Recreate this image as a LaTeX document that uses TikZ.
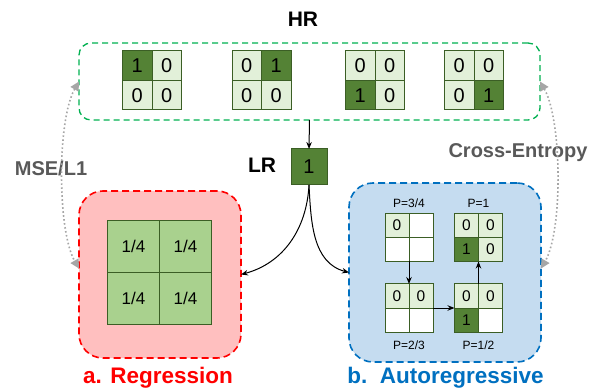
\documentclass[tikz,border=0pt]{standalone}
\usepackage{fontspec}
\setmainfont{Liberation Sans}
\usetikzlibrary{arrows.meta}

\definecolor{cellon}{HTML}{548235}
\definecolor{celloff}{HTML}{E2F0D9}
\definecolor{cellline}{HTML}{3B5E25}
\definecolor{quarter}{HTML}{A9D18E}
\definecolor{hrline}{HTML}{00B050}
\definecolor{regfill}{HTML}{FFBFBF}
\definecolor{autofill}{HTML}{C5DCF0}
\definecolor{autoline}{HTML}{0070C0}
\definecolor{lossgray}{HTML}{A6A6A6}
\definecolor{losstext}{HTML}{595959}

\newcommand{\hrfont}{\fontsize{20}{24}\selectfont}
\newcommand{\regfont}{\fontsize{17}{20}\selectfont}
\newcommand{\arfont}{\fontsize{15.5}{18}\selectfont}
\newcommand{\plabfont}{\fontsize{12}{14}\selectfont}

% 2x2 grid: name, centre, cell size, font, four cells [style]{text}
\newcommand{\cellgrid}[8]{%
  \node (#1) at (#2) [minimum size=2*#3] {};
  \node (#1a) at (#1.center) [anchor=south east, minimum size=#3, font=#4] #5;
  \node (#1b) at (#1.center) [anchor=south west, minimum size=#3, font=#4] #6;
  \node (#1c) at (#1.center) [anchor=north east, minimum size=#3, font=#4] #7;
  \node (#1d) at (#1.center) [anchor=north west, minimum size=#3, font=#4] #8;
}

\begin{document}
\begin{tikzpicture}[x=1pt,y=1pt]
	\tikzstyle{every node}+=[inner sep=0pt, outer sep=0pt]
	\tikzstyle{onecell}=[draw=cellline, line width=1pt, fill=cellon]
	\tikzstyle{zerocell}=[draw=cellline, line width=1pt, fill=celloff]
	\tikzstyle{blankcell}=[draw=cellline, line width=1pt, fill=white]
	\tikzstyle{quartcell}=[draw=cellline, line width=1pt, fill=quarter]
	\tikzstyle{arrow}=[line width=1pt, -{Stealth[length=7pt,width=5.5pt]}]
	\tikzstyle{loss}=[lossgray, line width=1.6pt, dash pattern=on 1.6pt off 2.4pt, looseness=0.6, {Triangle[length=9pt,width=9pt]}-{Triangle[length=9pt,width=9pt]}]
	\tikzstyle{title}=[font=\fontsize{21}{24}\selectfont\bfseries]
	\tikzstyle{losslabel}=[font=\fontsize{20}{24}\selectfont\bfseries, text=losstext]
	\useasboundingbox (0,0) rectangle (598,389);

	% boxes
	\node (hrbox) at (309.5,307.5) [draw=hrline, line width=1.3pt, dash pattern=on 6pt off 4pt, rounded corners=12pt, minimum width=461pt, minimum height=77pt] {};
	\node (reg) at (160,114.5) [draw=red, fill=regfill, line width=1.6pt, dash pattern=on 7pt off 4pt, rounded corners=24pt, minimum width=162pt, minimum height=167pt] {};
	\node (autobox) at (445,116.5) [draw=autoline, fill=autofill, line width=1.6pt, dash pattern=on 7pt off 4pt, rounded corners=24pt, minimum width=192pt, minimum height=179pt] {};

	% HR
	\node (hrlabel) at (303,369.5) [title] {HR};
	\cellgrid{hra}{152,308.5}{29.5}{\hrfont}{[onecell]{1}}{[zerocell]{0}}{[zerocell]{0}}{[zerocell]{0}}
	\cellgrid{hrb}{261.5,308.5}{29.5}{\hrfont}{[zerocell]{0}}{[onecell]{1}}{[zerocell]{0}}{[zerocell]{0}}
	\cellgrid{hrc}{375,308.5}{29.5}{\hrfont}{[zerocell]{0}}{[zerocell]{0}}{[onecell]{1}}{[zerocell]{0}}
	\cellgrid{hrd}{474,308.5}{29.5}{\hrfont}{[zerocell]{0}}{[zerocell]{0}}{[zerocell]{0}}{[onecell]{1}}

	% LR
	\node (lrlabel) at (262,224) [title] {LR};
	\node (lr) at (309,222) [onecell, minimum size=36pt, font=\hrfont] {1};

	% regression
	\cellgrid{avg}{159.5,116.5}{52}{\regfont}{[quartcell]{1/4}}{[quartcell]{1/4}}{[quartcell]{1/4}}{[quartcell]{1/4}}

	% autoregressive
	\cellgrid{pa}{409,151.5}{24}{\arfont}{[zerocell]{0}}{[blankcell]{}}{[blankcell]{}}{[blankcell]{}}
	\cellgrid{pb}{478.5,151.5}{24}{\arfont}{[zerocell]{0}}{[zerocell]{0}}{[onecell]{1}}{[zerocell]{0}}
	\cellgrid{pc}{409,81}{24}{\arfont}{[zerocell]{0}}{[zerocell]{0}}{[blankcell]{}}{[blankcell]{}}
	\cellgrid{pd}{478.5,81}{24}{\arfont}{[zerocell]{0}}{[zerocell]{0}}{[onecell]{1}}{[blankcell]{}}
	\node (pal) at (409,186) [font=\plabfont] {P=3/4};
	\node (pbl) at (478.5,186) [font=\plabfont] {P=1};
	\node (pcl) at (409,44) [font=\plabfont] {P=2/3};
	\node (pdl) at (478.5,44) [font=\plabfont] {P=1/2};

	\draw[arrow] (hrbox.south) -- (lr.north);
	\draw[arrow] (lr.south) to[out=-93,in=15] (reg.east);
	\draw[arrow] (lr.south) to[out=-87,in=165] (autobox.west);
	\draw[arrow] (pa.south) -- (pc.north);
	\draw[arrow] (pc.east) -- (pd.west);
	\draw[arrow] (pd.north) -- (pb.south);

	% losses
	\node (mse) at (51,221) [losslabel] {MSE/L1};
	\node (ce) at (518,236) [losslabel] {Cross-Entropy};
	\draw[loss] (hrbox.west) to[out=240,in=120] ([yshift=6pt]reg.west);
	\draw[loss] (hrbox.east) to[out=-60,in=60] ([yshift=4pt]autobox.east);

	% captions
	\node (regcap) at (158,5.5) [anchor=base, font=\fontsize{22.5}{26}\selectfont\bfseries, text=red] {a. Regression};
	\node (autocap) at (445.5,5.5) [anchor=base, font=\fontsize{22.5}{26}\selectfont\bfseries, text=autoline] {b.\ \ Autoregressive};
\end{tikzpicture}
\end{document}
